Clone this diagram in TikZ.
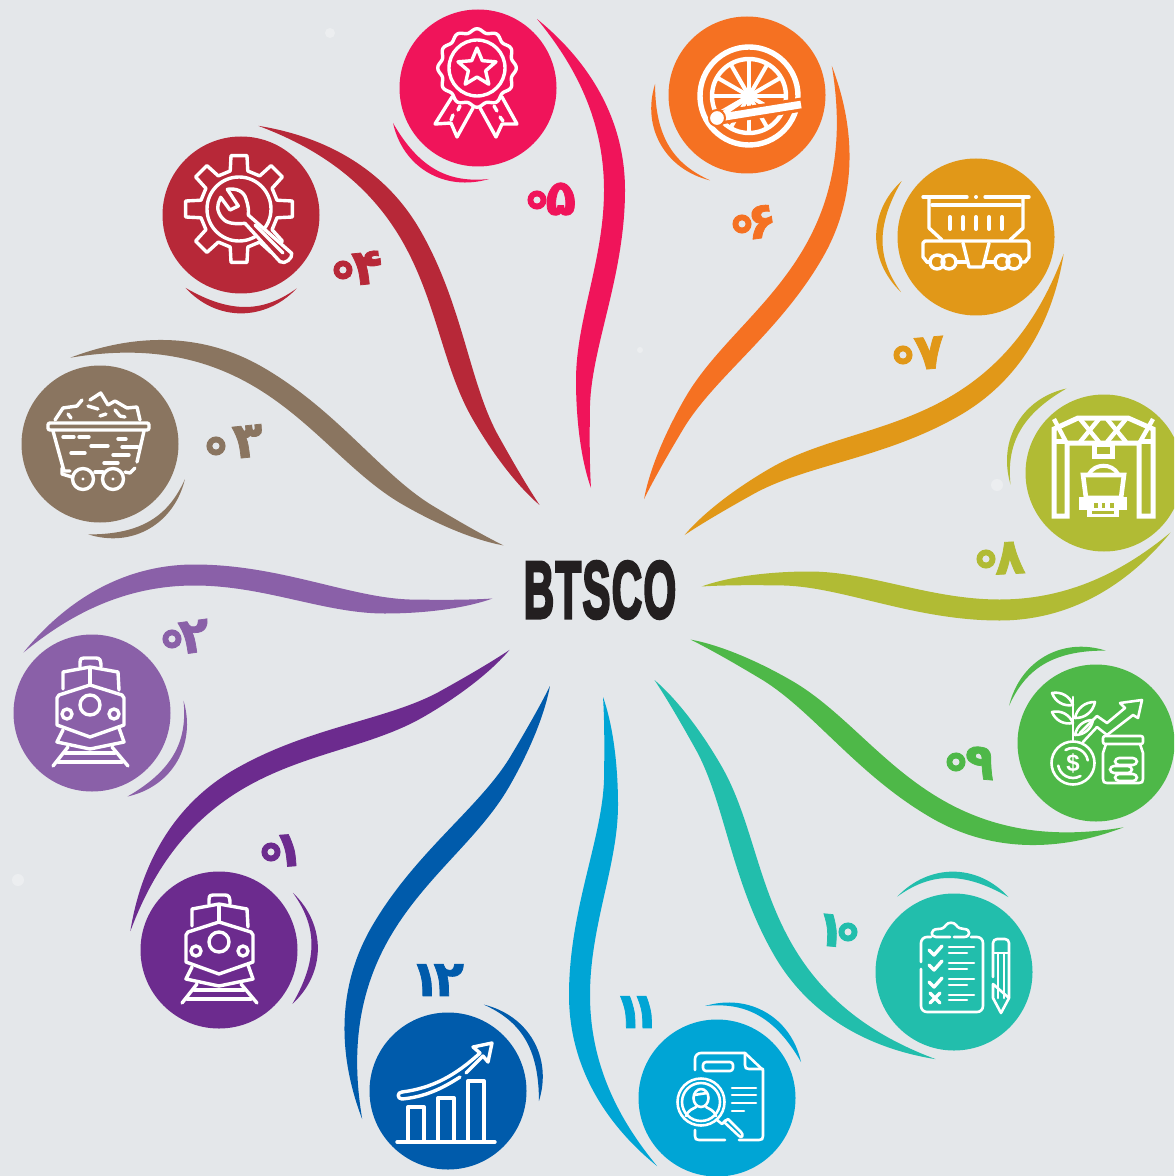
\documentclass[tikz,border=0pt]{standalone}
\usepackage{fontspec}
\newfontfamily\digfont[Script=Arabic,FakeBold=1.5]{DejaVu Sans Bold}
\newfontfamily\logofont[FakeBold=4,LetterSpace=3]{Liberation Sans Bold}
\setsansfont{Liberation Sans}
\definecolor{bgc}{HTML}{E4E7EA}
\definecolor{c1}{HTML}{6C2B8E}
\definecolor{c2}{HTML}{8A60A8}
\definecolor{c3}{HTML}{8A7560}
\definecolor{c4}{HTML}{B72838}
\definecolor{c5}{HTML}{F0145A}
\definecolor{c6}{HTML}{F57122}
\definecolor{c7}{HTML}{E19818}
\definecolor{c8}{HTML}{B1BB34}
\definecolor{c9}{HTML}{4EB848}
\definecolor{c10}{HTML}{22BEAC}
\definecolor{c11}{HTML}{00A5D5}
\definecolor{c12}{HTML}{005BAB}
\definecolor{logoc}{HTML}{231F20}
\tikzset{
  disc/.style={circle,inner sep=0pt,minimum size=78.5pt,draw=none},
  ico/.style={draw=white,line width=1.7pt,line cap=round,line join=round},
  icot/.style={draw=white,line width=1.3pt,line cap=round,line join=round},
  numlabel/.style={inner sep=0pt,font=\digfont\fontsize{25}{27}\selectfont},
}
\newcommand{\icTrain}{%
  \draw[ico] (-12,-46) -- (-12,-50) .. controls (-12,-55) and (-10,-55) .. (-8,-55) -- (4,-55) .. controls (8,-55) and (9,-53) .. (9,-46);
  \draw[ico] (-29,-24) -- (-29,-41) -- (-2,-46) -- (26,-41) -- (27,-23);
  \draw[ico] (-2,-45) -- (-2,-28);
  \draw[ico] (-33,-18) -- (-2,-28) -- (30,-18) -- (32,-15) -- (32,12) -- (-2,24) -- (-35,12) -- (-35,-15) -- cycle;
  \draw[ico] (-2,-8) circle[radius=10];
  \draw[ico] (-25,1) circle[radius=5];
  \draw[ico] (22,1) circle[radius=5];
  \draw[ico] (-29,17) -- (-35,29) -- (-2,36) -- (32,29) -- (27,15);
  \draw[ico] (-39,53) -- (-24,34);
  \draw[ico] (36,53) -- (20,34);
  \draw[ico] (-34,49) -- (30,49);
  \draw[ico] (-27,40) -- (23,40);
}
\newcommand{\zeroring}[3]{%
  \draw[draw=#1,line width=3pt] (#2,#3) circle[radius=6.5];
  \fill[bgc] (#2,#3) circle[radius=3.5];
}
\begin{document}
\begin{tikzpicture}[x=0.5pt,y=-0.5pt]
\useasboundingbox (0,0) rectangle (1174,1176);
\clip (0,0) rectangle (1174,1176);
\fill[bgc] (0,0) rectangle (1174,1176);
% faint paper specks
\foreach \sx/\sy/\sr in {330/33/5,18/880/6,997/485/6,640/350/3}{
  \fill[white,opacity=0.3] (\sx,\sy) circle[radius=\sr];
}
% swooshes: one petal and one small arc, turned round the centre
\foreach \k in {1,...,12}{
  \pgfmathsetmacro{\ang}{(5-\k)*30}
  \begin{scope}[rotate around={\ang:(597,592.5)}]
    \fill[c\k] (537,19) .. controls (590,62) and (625,120) .. (625,190)
       .. controls (625,275) and (592,345) .. (590,405)
       .. controls (589.5,435) and (589.5,465) .. (591,488)
       .. controls (581,460) and (576,420) .. (576,380)
       .. controls (576,320) and (604,260) .. (604,190)
       .. controls (604,120) and (575,65) .. (537,19) -- cycle;
    \fill[c\k] (393,123) .. controls (403,168) and (445,192) .. (489,179)
       .. controls (450,183) and (420,170) .. (393,123) -- cycle;
  \end{scope}
}
% discs
\node[disc,fill=c1] (d1) at (219,950) {};
\node[disc,fill=c2] (d2) at (92,713) {};
\node[disc,fill=c3] (d3) at (100,444) {};
\node[disc,fill=c4] (d4) at (241,215) {};
\node[disc,fill=c5] (d5) at (478,88) {};
\node[disc,fill=c6] (d6) at (747,95) {};
\node[disc,fill=c7] (d7) at (976,237) {};
\node[disc,fill=c8] (d8) at (1104,473) {};
\node[disc,fill=c9] (d9) at (1096,743) {};
\node[disc,fill=c10] (d10) at (954,972) {};
\node[disc,fill=c11] (d11) at (717,1098) {};
\node[disc,fill=c12] (d12) at (448,1091) {};
% 01 / 02 locomotive
\begin{scope}[shift={(221,950)}]\icTrain\end{scope}
\begin{scope}[shift={(92,713)}]\icTrain\end{scope}
% 03 mine cart
\begin{scope}[shift={(100,444)}]
  \draw[ico,rounded corners=1pt] (-52,-21) rectangle (49,-14);
  \draw[ico] (-47,-13) -- (-36,27) -- (-30,27);
  \draw[ico] (44,-13) -- (37,18);
  \draw[ico] (35,24) -- (30,29) -- (25,28);
  \draw[ico] (-5,28) -- (3,28);
  \draw[ico] (-38,24) -- (-38,30) -- (-28,33);
  \draw[ico] (-17,35) circle[radius=10.5];
  \draw[ico] (13,35) circle[radius=10.5];
  \fill[white] (-17,35) circle[radius=1.6];
  \fill[white] (13,35) circle[radius=1.6];
  \draw[ico] (-45,-24) -- (-37,-36) -- (-23,-38) -- (-18,-44);
  \draw[ico] (-10,-44) -- (0.7,-51) -- (8,-39) -- (15,-43) -- (27,-36) -- (37,-37) -- (40,-24);
  \draw[ico] (-12,-38) -- (-2,-35);
  \draw[ico] (0,-28) -- (6,-30);
  \draw[ico] (15,-34) -- (20,-28) -- (25,-27);
  \draw[ico] (-32,-30) -- (-29,-26);
  \draw[ico] (-37,-7) -- (-26,-7);
  \draw[ico] (-21,-7) -- (-11,-7);
  \draw[ico] (-9,2) -- (8,2);
  \draw[ico] (18,-5) -- (26,-5);
  \draw[ico] (22,3) -- (38,3);
  \draw[ico] (-29,9) -- (-15,9);
  \draw[ico] (13,11) -- (29,11);
  \draw[ico] (4,19) -- (18,19);
\end{scope}
% 04 gear and wrench
\begin{scope}[shift={(239,209)}]
  \draw[ico] (-13:39) \foreach \a in {0,45,...,315}{ -- (\a-13:39) -- (\a-8.5:54) -- (\a+8.5:54) -- (\a+13:39)} -- cycle;
  \draw[ico] (0,0) circle[radius=32];
\end{scope}
\begin{scope}[shift={(241,215)}]
  \draw[ico,fill=c4] (-13.7,-25.7) .. controls (-5,-27) and (3,-24) .. (5,-16)
    .. controls (7,-10) and (8,-5) .. (7.3,0) -- (50.7,38.3)
    .. controls (52,43) and (44,50) .. (39,46.7) -- (4,8.3)
    .. controls (-2,9) and (-9,9) .. (-14.3,6.7)
    .. controls (-21,3) and (-25,-6) .. (-22.7,-11.7) -- (-20.3,-17.7) -- (-11,-5) -- (-2.7,-9) -- cycle;
  \draw[ico] (14,10) -- (42,38);
\end{scope}
% 05 medal
\begin{scope}[shift={(477,68)}]
  \draw[ico] plot[domain=0:360,samples=121,smooth] ({(37.5+1.8*cos(12*\x))*cos(\x)},{(37.5+1.8*cos(12*\x))*sin(\x)}) -- cycle;
  \draw[ico] (0,0) circle[radius=28];
  \draw[ico] (0,-20) -- (5.3,-7.3) -- (19,-6.2) -- (8.6,2.8) -- (11.8,16.2) -- (0,9) -- (-11.8,16.2) -- (-8.6,2.8) -- (-19,-6.2) -- (-5.3,-7.3) -- cycle;
\end{scope}
\begin{scope}[shift={(478,88)}]
  \draw[ico] (-26,9) -- (-43,36) -- (-27,35) -- (-21,49) -- (-5,20);
  \draw[ico] (24,9) -- (39,36) -- (24,36) -- (18,49) -- (2,20);
  \draw[ico] (-18,18) -- (-20,22);
  \draw[ico] (-25,27) -- (-27,32);
  \draw[ico] (16,18) -- (19,23);
  \draw[ico] (22,29) -- (25,33);
\end{scope}
% 06 wheel
\begin{scope}[shift={(747,95)}]
  \draw[draw=white,line width=2.7pt] (2,1) circle[radius=49];
  \draw[draw=white,line width=2.2pt] (2,1) circle[radius=37];
  \foreach \a in {0,30,...,330}{ \draw[draw=white,line width=2pt] (2,1) -- ++(\a:38); }
  \draw[draw=c6,line width=7pt] (-30,23) -- (55,9.5);
  \draw[draw=white,line width=3.8pt] (-30,23) -- (54,9.5);
  \draw[draw=white,line width=2.5pt] (2,1) -- (-30,23);
  \fill[white] (2,1) circle[radius=7];
  \draw[draw=c6,fill=white,line width=1pt] (-30,23) circle[radius=8];
\end{scope}
% 07 hopper wagon
\begin{scope}[shift={(976,237)}]
  \draw[ico] (-53,-40) -- (-9,-40);
  \fill[white] (0,-40) circle[radius=2];
  \draw[ico] (9,-40) -- (53,-40);
  \draw[ico] (-47,-39) -- (-47,-9) -- (-34,3);
  \draw[ico] (47,-39) -- (47,-9) -- (34,3);
  \draw[ico] (-44,-32) -- (44,-32);
  \foreach \sx in {-26,-13,0,13,26}{ \draw[ico,line width=2pt] (\sx,-20) -- (\sx,-8); }
  \draw[ico] (-49,25) -- (-53,20) -- (-53,6) -- (-51,4) -- (51,4) -- (53,6) -- (53,20) -- (49,25) -- (45,25);
  \draw[ico] (-49,25) -- (-46,25);
  \foreach \wx in {-39,-27,26,38}{ \draw[ico] (\wx,25) circle[radius=7]; }
  \draw[ico] (-20,25) -- (-10,25);
  \draw[ico] (10,25) -- (19,25);
  \draw[ico] (-13,6) -- (-7,30) -- (7,30) -- (13,6);
\end{scope}
% 08 gantry crane
\begin{scope}[shift={(1104,473)}]
  \draw[white,line width=2.5pt,line join=miter] (-50,-44) -- (-26,-55) -- (24,-55) -- (49,-44) -- (49,43) -- (35,43) -- (35,-30) -- (-37,-30) -- (-37,43) -- (-50,43) -- cycle;
  \draw[white,line width=2.5pt] (-50,-32) -- (-37,-32);
  \draw[white,line width=2.5pt] (35,-32) -- (49,-32);
  \foreach \ax/\bx in {-24/-5,-5/-24,3/22,22/3,-50/-38,49/36}{
    \draw[white,line width=2.2pt] (\ax,-54) -- (\bx,-31);
  }
  \draw[white,line width=2.5pt] (-10,-29) rectangle (8,-17);
  \draw[white,line width=2.3pt] (-21,2) -- (-18,25) -- (17,25) -- (20,2) -- cycle;
  \draw[white,line width=2pt] (-15,1) .. controls (-9,-10) and (8,-10) .. (14,1);
  \fill[white] (-25,24) rectangle (23,37);
  \fill[white] (-17,37) rectangle (15,44);
  \fill[c8] (-12,38) rectangle (10,41);
  \fill[c8] (-2,30) rectangle (1,35);
  \fill[c8] (-10,30) rectangle (-6,35);
  \fill[c8] (6,30) rectangle (10,35);
\end{scope}
% 09 growth
\begin{scope}[shift={(1096,743)}]
  \draw[icot] (-23,20) circle[radius=21.5];
  \draw[icot] (-23,20) +(60:15) arc[start angle=60,end angle=170,radius=15];
  \draw[icot] (-23,20) +(240:15) arc[start angle=240,end angle=350,radius=15];
  \node[text=white,font=\sffamily\bfseries\fontsize{12}{12}\selectfont,inner sep=0pt] (dollar) at (-23,20) {\$};
  \draw[icot,rounded corners=1pt] (7,-7) rectangle (47,1);
  \draw[icot] (10,1) -- (7,10) -- (7,36) .. controls (7,39) and (8,40) .. (11,40) -- (43,40) .. controls (46,40) and (47,39) .. (47,36) -- (47,10) -- (44,1);
  \draw[icot,rounded corners=2pt] (19,15) rectangle (41,22);
  \draw[icot,rounded corners=2pt] (14,23) rectangle (36,30);
  \draw[icot,rounded corners=2pt] (19,31) rectangle (41,38);
  \draw[icot] (-13,-1) -- (1,-16) -- (11,-8) -- (37,-28) -- (42,-25) -- (46,-43) -- (24,-40) -- (29,-35) -- (11,-20) -- (1,-27) -- (-16,-10);
  \draw[icot] (-23,-46) -- (-23,-3);
  \draw[icot] (-44,-50) to[bend right=40] (-23,-38) to[bend right=40] cycle;
  \draw[icot] (-1,-41) to[bend right=40] (-21,-25) to[bend right=40] cycle;
  \draw[icot] (-44,-31) to[bend right=40] (-23,-20) to[bend right=40] cycle;
  \draw[icot] (-3,-23) to[bend right=40] (-21,-8) to[bend right=40] cycle;
\end{scope}
% 10 checklist
\begin{scope}[shift={(954,972)}]
  \draw[icot,rounded corners=3pt] (-23,-35) -- (-33,-35) -- (-33,-10);
  \draw[icot,rounded corners=3pt] (-33,-3) -- (-33,40) -- (29,40) -- (29,-35) -- (17,-35);
  \draw[icot] (-4,-35) -- (-18,-35) .. controls (-24,-35) and (-24,-43) .. (-16,-43) .. controls (-12,-43) and (-10,-44) .. (-8,-47) .. controls (-6,-50) and (0,-50) .. (2,-47) .. controls (4,-44) and (7,-43) .. (10,-43) .. controls (17,-43) and (17,-35) .. (10,-35) -- (0,-35);
  \foreach \dy/\la/\lb in {0/-25/-19,15/-9/-3,32/7/13}{
    \begin{scope}[yshift=-\dy*0.5pt]
      \draw[ico] (-25,-22) -- (-20,-17) -- (-12,-26);
    \end{scope}
    \draw[icot] (-5,\la) -- (20,\la);
    \draw[icot] (-5,\lb) -- (13,\lb);
  }
  \draw[ico] (-24,21) -- (-14,31);
  \draw[ico] (-14,21) -- (-24,31);
  \draw[icot] (-5,23) -- (20,23);
  \draw[icot] (-5,28) -- (13,28);
  \draw[icot,rounded corners=2pt] (39,5) -- (39,-33) -- (55,-33) -- (55,26);
  \draw[icot] (39,12) -- (39,26) -- (47,41) -- (55,26) -- cycle;
  \draw[icot] (39,-19) -- (55,-19);
  \draw[icot] (44,-19) -- (44,26);
  \draw[icot] (50,-19) -- (50,26);
\end{scope}
% 11 document and magnifier
\begin{scope}[shift={(717,1098)}]
  \draw[icot,rounded corners=3pt] (-22,-28) -- (-22,-45) -- (28,-45);
  \draw[icot] (28,-45) -- (46,-28) -- (46,38) .. controls (46,41) and (45,42) .. (42,42) -- (22,42);
  \draw[icot] (-22,32) -- (-22,38) .. controls (-22,41) and (-21,42) .. (-18,42) -- (8,42);
  \draw[icot] (28,-45) -- (28,-33) .. controls (28,-30) and (29,-29) .. (32,-29) -- (46,-29);
  \draw[icot,rounded corners=1.5pt] (-14,-36) rectangle (16,-27);
  \draw[icot] (15,-10) -- (39,-10);
  \draw[icot] (15,-3) -- (39,-3);
  \draw[icot] (15,5) -- (39,5);
  \draw[icot] (15,13) -- (27,13);
  \draw[icot] (-16,4) circle[radius=23.5];
  \draw[icot] (-16,4) circle[radius=19];
  \draw[icot] (-16,0) ellipse[x radius=7.5,y radius=9];
  \draw[icot] (-23,-3) -- (-10,-5);
  \draw[icot] (-31,18) .. controls (-29,12) and (-24,11) .. (-21,9);
  \draw[icot] (-1,18) .. controls (-3,12) and (-8,11) .. (-11,9);
  \draw[icot] (0,22) -- (5,26);
  \draw[icot] (9,22) -- (5,26);
  \draw[icot] (7,24) -- (22,38) .. controls (25,41) and (27,37) .. (24,34) -- (11,21) -- cycle;
\end{scope}
% 12 rising chart
\begin{scope}[shift={(448,1091)}]
  \draw[ico] (-51,51) -- (47,51);
  \draw[ico] (-40,51) -- (-40,16) -- (-24,16) -- (-24,51);
  \draw[ico] (-10,51) -- (-10,7) -- (6,7) -- (6,51);
  \draw[ico] (20,51) -- (20,-10) -- (36,-10) -- (36,51);
  \draw[ico] (-46,1) .. controls (-15,-3) and (8,-16) .. (32,-38) -- (25,-44) -- (44,-48) -- (40,-29) -- (35,-35) -- (18,-18);
  \draw[ico] (12,-14) .. controls (-8,-1) and (-25,6) .. (-46,8) .. controls (-51,8) and (-51,1) .. (-46,1);
\end{scope}
% labels
\node[numlabel,text=c1,rotate=4] (n1) at (280.5,851) {۰\kern-7pt۱};
\node[numlabel,text=c2,rotate=8] (n2) at (184.5,638) {۰\kern-5pt۲};
\node[numlabel,text=c3,rotate=6] (n3) at (233,443) {۰۳};
\node[numlabel,text=c4,rotate=6] (n4) at (356.5,269) {۰\kern-4pt۴};
\node[numlabel,text=c5] (n5) at (550,199) {۰\kern-4.5pt۵};
\node[numlabel,text=c6,rotate=8] (n6) at (752.5,223) {۰\kern-6pt۶};
\node[numlabel,text=c7,rotate=5] (n7) at (917.5,354) {۰\kern-3pt۷};
\node[numlabel,text=c8,rotate=3] (n8) at (999,558.5) {۰\kern-4.5pt۸};
\node[numlabel,text=c9,rotate=-5] (n9) at (969,762) {۰\kern-4.5pt۹};
\node[numlabel,text=c10,rotate=-5] (n10) at (839,931) {۱\kern-7pt۰};
\node[numlabel,text=c11] (n11) at (637,1012) {۱\kern-7pt۱};
\node[numlabel,text=c12] (n12) at (437,980) {۱\kern-3.5pt۲};
% zero rings round the dots of the digit zero
\zeroring{c1}{271}{852}
\zeroring{c2}{172}{639}
\zeroring{c3}{216}{446}
\zeroring{c4}{343}{270}
\zeroring{c5}{537}{200}
\zeroring{c6}{742}{224}
\zeroring{c7}{903}{355}
\zeroring{c8}{986}{559}
\zeroring{c9}{956}{762}
\zeroring{c10}{848}{932}
% title
\node[inner sep=0pt,text=logoc,font=\logofont\fontsize{40.5}{41}\selectfont,xscale=0.52] (title) at (600,590) {BTSCO};
\end{tikzpicture}
\end{document}
